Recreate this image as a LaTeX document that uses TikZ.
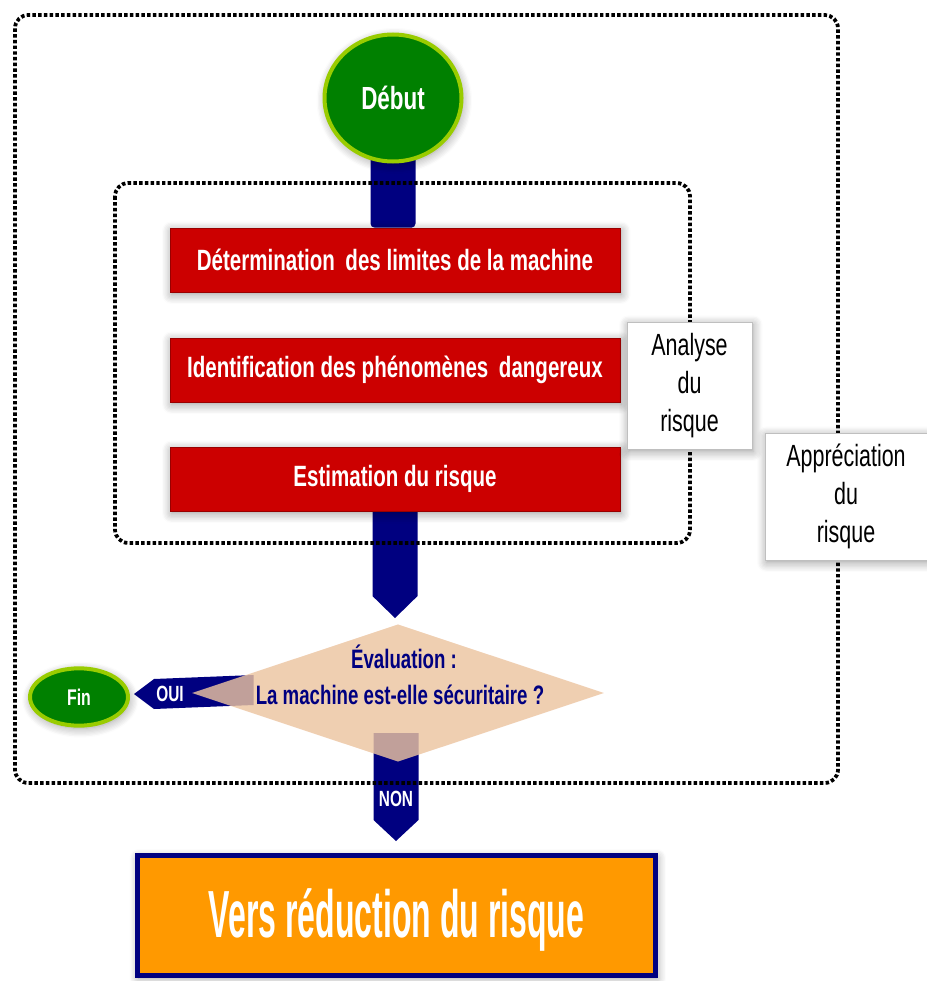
\documentclass[tikz,border=0pt]{standalone}
\usepackage{fontspec}
\setmainfont{Liberation Sans}
\newfontfamily\nrw[FakeStretch=0.7]{Liberation Sans}
\newfontfamily\vrs[FakeStretch=0.48]{Liberation Sans}
\usetikzlibrary{shapes.geometric,calc,shadows.blur}
\definecolor{navyb}{RGB}{0,0,128}
\definecolor{redb}{RGB}{204,0,0}
\definecolor{greenb}{RGB}{0,128,0}
\definecolor{limeb}{RGB}{153,204,0}
\definecolor{tanb}{RGB}{236,196,160}
\definecolor{orangeb}{RGB}{255,153,0}
\pgfdeclarelayer{arrowsl}
\pgfdeclarelayer{dotsl}
\pgfsetlayers{arrowsl,dotsl,main}
\begin{document}
\begin{tikzpicture}[x=0.75pt,y=-0.75pt,
  shd/.style={blur shadow={shadow blur steps=8, shadow xshift=1pt, shadow yshift=-2pt, shadow blur radius=7pt, shadow opacity=40}},
  redbox/.style={rectangle, fill=redb, draw=redb!75!black, line width=0.6pt, minimum width=337.5pt, minimum height=48pt, inner sep=0pt, text=white, font=\nrw\bfseries\fontsize{22}{24}\selectfont, shd},
  whitebox/.style={rectangle, fill=white, draw=black!25, line width=0.5pt, inner sep=0pt, align=center, text=black, font=\nrw\fontsize{23}{28.5}\selectfont, shd},
  greenell/.style={ellipse, fill=greenb, draw=limeb, line width=3pt, inner sep=0pt, text=white, shd},
  dotb/.style={draw=black, line width=2.8pt, dash pattern=on 2.6pt off 1.7pt, rounded corners=10pt},
  blk/.style={fill=navyb},
  lbl/.style={text=white, font=\nrw\bfseries\fontsize{16.5}{18}\selectfont, inner sep=0pt}
]
\useasboundingbox (0,0) rectangle (927,981);

% nodes
\node[greenell, minimum width=102.75pt, minimum height=95.25pt, font=\nrw\bfseries\fontsize{24}{26}\selectfont] (deb) at (393,98) {Début};
\node[redbox] (b1) at (395,260) {Détermination\, des limites de la machine};
\node[redbox] (b2) at (395,370) {Identification des phénomènes\, dangereux};
\node[redbox] (b3) at (395,479) {Estimation du risque};
\node[whitebox, minimum width=93.75pt, minimum height=95.25pt] (ana) at (689.5,385.5) {Analyse\\du\\risque};
\node[whitebox, minimum width=121.5pt, minimum height=95.25pt] (app) at (846,496.5) {Appréciation\\du\\risque};
\node[diamond, fill=tanb, fill opacity=0.82, minimum width=309pt, minimum height=103pt, inner sep=0pt] (dia) at (398,693) {};
\node[text=navyb, font=\nrw\bfseries\fontsize{20}{22}\selectfont, inner sep=0pt] (evt) at (404,657) {Évaluation :};
\node[text=navyb, font=\nrw\bfseries\fontsize{20}{22}\selectfont, inner sep=0pt] (evq) at (400,695) {La machine est-elle sécuritaire ?};
\node[greenell, minimum width=73.5pt, minimum height=43pt, font=\nrw\bfseries\fontsize{17}{19}\selectfont] (fin) at (79,697) {Fin};
\node[rectangle, fill=orangeb, draw=navyb, line width=3.75pt, minimum width=388.5pt, minimum height=90pt, inner sep=0pt, text=white, text depth=3pt, font=\vrs\bfseries\fontsize{50}{56}\selectfont, shd] (vers) at (396.5,915.5) {Vers réduction du risque};

% block arrows
\begin{pgfonlayer}{arrowsl}
\fill[blk, rounded corners=3pt] ($(deb.center)+(-22.5,0)$) -- ($(deb.center)+(22.5,0)$) -- ($(deb.center |- b1.north)+(22.5,0)$) -- ($(deb.center |- b1.north)+(-22.5,0)$) -- cycle;
\fill[blk] ($(b3.center)+(-22.5,0)$) -- ($(b3.center)+(22.5,0)$) -- ($(b3.center |- dia.north)+(22.5,-28)$) -- ($(b3.center |- dia.north)+(0,-6)$) -- ($(b3.center |- dia.north)+(-22.5,-28)$) -- cycle;
\fill[blk] ($(dia.center)+(-24.5,40)$) -- ($(dia.center)+(20.5,40)$) -- ($(dia.center |- vers.north)+(20.5,-33)$) -- ($(dia.center |- vers.north)+(-2,-12)$) -- ($(dia.center |- vers.north)+(-24.5,-33)$) -- cycle;
\fill[blk] ($(fin.east)+(4,-3)$) -- ($(fin.east)+(24,-18)$) -- ($(dia.west)+(62,-18)$) -- ($(dia.west)+(62,12)$) -- ($(fin.east)+(24,12)$) -- cycle;
\end{pgfonlayer}
\node[lbl] (oui) at (170,694) {OUI};
\node[lbl] (non) at (396,799) {NON};

% dotted frames
\begin{pgfonlayer}{dotsl}
\draw[dotb] (15,15) rectangle (838,783);
\draw[dotb] (115,183) rectangle (690,543);
\end{pgfonlayer}
\end{tikzpicture}
\end{document}
